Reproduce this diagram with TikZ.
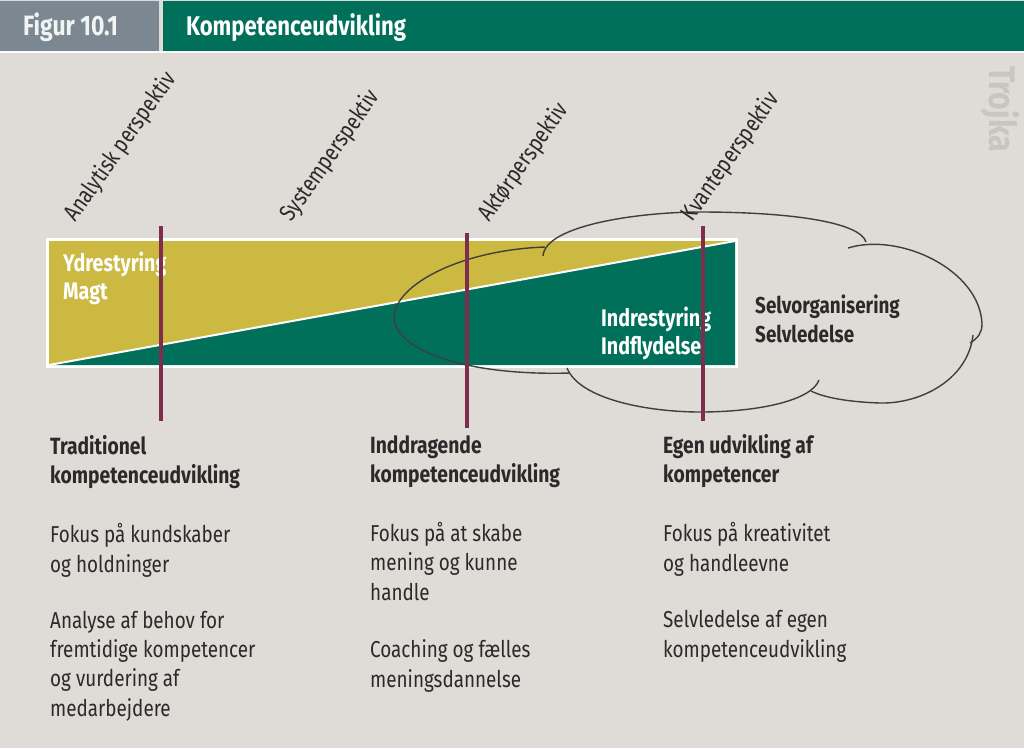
\documentclass[tikz,border=0pt]{standalone}
\usepackage{fontspec}
\setmainfont{Fira Sans}[FakeStretch=0.82]
\usepackage{tikz}
\usetikzlibrary{positioning}

\definecolor{paper}{HTML}{DFDBD6}
\definecolor{figgray}{HTML}{7B8891}
\definecolor{deepgreen}{HTML}{00705A}
\definecolor{olive}{HTML}{CBB942}
\definecolor{plum}{HTML}{7D2E4D}
\definecolor{ink}{HTML}{2A2A2A}

\tikzset{
  headtext/.style={anchor=base west,inner sep=0pt,font=\fontsize{27}{32}\selectfont\bfseries},
  bartext/.style={anchor=base west,inner sep=0pt,align=left,text=white,font=\fontsize{24}{28}\selectfont\bfseries},
  tilted/.style={anchor=south west,inner sep=0pt,rotate=55,text=ink,font=\fontsize{23.5}{26}\selectfont},
  colhead/.style={anchor=base west,inner sep=0pt,align=left,text=ink,font=\fontsize{23.5}{29}\selectfont\bfseries},
  coltext/.style={anchor=base west,inner sep=0pt,align=left,text=ink,font=\fontsize{23}{29.3}\selectfont},
  marker/.style={draw=plum,line width=4pt},
  cloudline/.style={draw=ink!90,line width=1.4pt}
}

\begin{document}
\begin{tikzpicture}[x=1pt,y=-1pt]
    \useasboundingbox (0,0) rectangle (1024,748);
    \fill[paper] (0,0) rectangle (1024,748);
    % title bar
    \fill[figgray] (0,1) rectangle (159,51);
    \fill[deepgreen] (163,1) rectangle (1024,51);
    \fill[white!90!paper] (0,51) rectangle (1024,53);
    \node[headtext,text=white!90!figgray,font=\fontsize{28}{32}\selectfont\bfseries] (fig) at (23,35) {Figur 10.1};
    \node[headtext,text=white] (title) at (186,35) {Kompetenceudvikling};
    \node[anchor=west,inner sep=0pt,rotate=-90,text=black!10!paper,font=\fontsize{37}{40}\selectfont\bfseries] (trojka) at (1000,66) {Trojka};
    % bar
    \fill[white] (46,238) rectangle (738,368);
    \fill[olive] (49,241) -- (735,241) -- (49,365) -- cycle;
    \fill[deepgreen] (735,241) -- (735,365) -- (49,365) -- cycle;
    \draw[white,line width=2pt] (49,365) -- (735,241);
    \node[bartext] (outer) at (63,299) {Ydrestyring\\Magt};
    \node[bartext] (inner) at (601,354) {Indrestyring\\Indflydelse};
    % cloud
    \begin{scope}[cloudline]
    \draw (545,247) .. controls (460,250) and (395,285) .. (394,317)
          .. controls (395,352) and (470,376) .. (570,373);
    \draw (543,256) .. controls (545,225) and (640,212) .. (700,212)
          .. controls (790,212) and (860,222) .. (866,242);
    \draw (848,248) .. controls (900,232) and (980,270) .. (982,324)
          .. controls (982,333) and (978,338) .. (970,343);
    \draw (973,335) .. controls (968,380) and (920,404) .. (880,403)
          .. controls (850,402) and (825,398) .. (811,391);
    \draw (567,368) .. controls (580,400) and (650,412) .. (700,412)
          .. controls (760,412) and (812,400) .. (819,380);
    \end{scope}
    \node[anchor=base west,inner sep=0pt,align=left,text=ink,font=\fontsize{23}{29}\selectfont\bfseries] (self) at (755,342) {Selvorganisering\\Selvledelse};
    % markers
    \foreach \X/\A/\B in {161/226/421, 467/233/428, 703/226/421}
      {\draw[marker] (\X,\A) -- (\X,\B);}
    % perspectives
    \node[tilted] (ana) at (80,226) {Analytisk perspektiv};
    \node[tilted] (sys) at (296,226) {Systemperspektiv};
    \node[tilted] (akt) at (494,226) {Aktørperspektiv};
    \node[tilted] (kva) at (697,226) {Kvanteperspektiv};
    % columns
    \node[colhead] (trad) at (50,483) {Traditionel\\kompetenceudvikling};
    \node[coltext] (tradA) at (50,572) {Fokus på kundskaber\\og holdninger};
    \node[coltext] (tradB) at (50,716) {Analyse af behov for\\fremtidige kompetencer\\og vurdering af\\medarbejdere};
    \node[colhead] (indd) at (370,482) {Inddragende\\kompetenceudvikling};
    \node[coltext] (inddA) at (370,600) {Fokus på at skabe\\mening og kunne\\handle};
    \node[coltext] (inddB) at (370,687) {Coaching og fælles\\meningsdannelse};
    \node[colhead] (egen) at (663,482) {Egen udvikling af\\kompetencer};
    \node[coltext] (egenA) at (663,571) {Fokus på kreativitet\\og handleevne};
    \node[coltext] (egenB) at (663,657) {Selvledelse af egen\\kompetenceudvikling};
  \end{tikzpicture}
\end{document}
